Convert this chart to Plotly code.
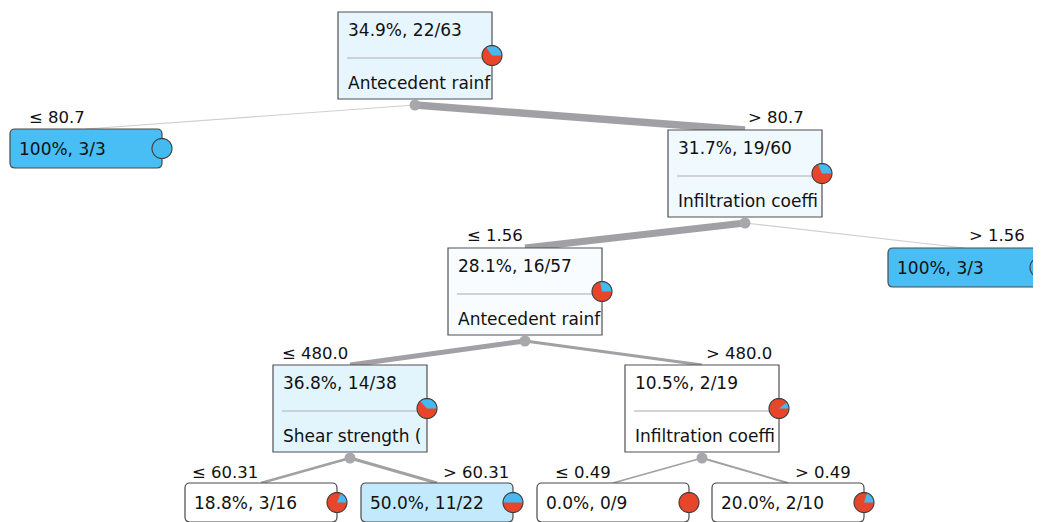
import math
import plotly.graph_objects as go

# ---------------- data ----------------
node_names = ["root", "L", "R", "RL", "RR", "RLL", "RLR", "RLLL", "RLLR", "RLRL", "RLRR"]
parents = [None, 0, 0, 2, 2, 3, 3, 5, 5, 6, 6]
conditions = ["", "≤ 80.7", "> 80.7", "≤ 1.56", "> 1.56", "≤ 480.0", "> 480.0",
              "≤ 60.31", "> 60.31", "≤ 0.49", "> 0.49"]
n_target = [22, 3, 19, 16, 3, 14, 2, 3, 11, 0, 2]
n_total = [63, 3, 60, 57, 3, 38, 19, 16, 22, 9, 10]
split_attr = ["Antecedent rainf", "", "Infiltration coeffi", "Antecedent rainf", "",
              "Shear strength (", "Infiltration coeffi", "", "", "", ""]

# ---------------- layout (pixel positions) ----------------
box_left = [338, 10, 668, 448, 888, 273, 625, 185, 361, 537, 712]
box_top = [12, 129, 130, 248, 248, 365, 365, 483, 483, 483, 483]
label_x = [None, 27, 806, 465, 1027, 280, 774, 190, 511, 553, 853]
label_y = [None, 117, 117, 235, 235, 353, 353, 472, 472, 472, 472]

W, H = 1041, 522
OFF = 8  # page body margin compensation
INNER_W, INNER_H = 154, 87
LEAF_W, LEAF_H = 152, 39
PIE_R = 10
DOT_R = 5.5
BLUE = (72, 190, 245)
PIE_BLUE = "#46b9f1"
PIE_RED = "#e8462a"
FONT = "DejaVu Sans"
TXT = "#111111"

n = len(node_names)
is_leaf = [s == "" for s in split_attr]


def geom(i):
    w = LEAF_W if is_leaf[i] else INNER_W
    h = LEAF_H if is_leaf[i] else INNER_H
    x0, y0 = box_left[i], box_top[i]
    return x0, y0, x0 + w, y0 + h


def fill_color(p):
    a = max(0.0, (p - 0.25) / 0.75)
    r, g, b = [round(255 * (1 - a) + c * a) for c in BLUE]
    return f"rgb({r},{g},{b})"


def rounded_rect(x0, y0, x1, y1, r):
    return (f"M{x0+r},{y0} L{x1-r},{y0} Q{x1},{y0} {x1},{y0+r} "
            f"L{x1},{y1-r} Q{x1},{y1} {x1-r},{y1} L{x0+r},{y1} Q{x0},{y1} {x0},{y1-r} "
            f"L{x0},{y0+r} Q{x0},{y0} {x0+r},{y0} Z")


def circle_path(cx, cy, r, k=48):
    pts = [(cx + r * math.cos(2 * math.pi * j / k), cy - r * math.sin(2 * math.pi * j / k)) for j in range(k)]
    return "M" + " L".join(f"{x:.2f},{y:.2f}" for x, y in pts) + " Z"


def wedge_path(cx, cy, r, frac, k=60):
    ang = 2 * math.pi * frac
    m = max(2, int(k * frac) + 1)
    pts = [(cx + r * math.cos(ang * j / m), cy - r * math.sin(ang * j / m)) for j in range(m + 1)]
    return f"M{cx},{cy} L" + " L".join(f"{x:.2f},{y:.2f}" for x, y in pts) + " Z"


shapes = []
annotations = []

# edges
for i in range(n):
    p = parents[i]
    if p is None:
        continue
    px0, py0, px1, py1 = geom(p)
    cx0, cy0, cx1, cy1 = geom(i)
    sx, sy = (px0 + px1) / 2, py1 + 6
    ex, ey = (cx0 + cx1) / 2, cy0
    w = 0.8 + 7 * n_total[i] / n_total[0]
    col = "#a1a1a5" if n_total[i] > 5 else "#cfcfd1"
    shapes.append(dict(type="line", xref="x", yref="y", x0=sx, y0=sy, x1=ex, y1=ey,
                       line=dict(color=col, width=w)))

# boxes
for i in range(n):
    x0, y0, x1, y1 = geom(i)
    frac = n_target[i] / n_total[i]
    if is_leaf[i]:
        shapes.append(dict(type="path", xref="x", yref="y", path=rounded_rect(x0, y0, x1, y1, 5),
                           fillcolor=fill_color(frac), line=dict(color="#4a4a4a", width=1.2)))
    else:
        shapes.append(dict(type="rect", xref="x", yref="y", x0=x0, y0=y0, x1=x1, y1=y1,
                           fillcolor=fill_color(frac), line=dict(color="#505050", width=1.2)))
        shapes.append(dict(type="line", xref="x", yref="y", x0=x0 + 9, y0=y0 + 46, x1=x1 - 4, y1=y0 + 46,
                           line=dict(color="#c4c4c4", width=1.5)))

# split dots
for i in range(n):
    if is_leaf[i]:
        continue
    x0, y0, x1, y1 = geom(i)
    cx, cy = (x0 + x1) / 2, y1 + 6
    shapes.append(dict(type="circle", xref="x", yref="y", x0=cx - DOT_R, y0=cy - DOT_R,
                       x1=cx + DOT_R, y1=cy + DOT_R, fillcolor="#a8a8ac", line=dict(width=0)))

# pies
for i in range(n):
    x0, y0, x1, y1 = geom(i)
    cx, cy = x1, (y0 + y1) / 2
    frac = n_target[i] / n_total[i]
    shapes.append(dict(type="path", xref="x", yref="y", path=circle_path(cx, cy, PIE_R),
                       fillcolor=PIE_RED if frac < 1 else PIE_BLUE, line=dict(width=0)))
    if 0 < frac < 1:
        shapes.append(dict(type="path", xref="x", yref="y", path=wedge_path(cx, cy, PIE_R, frac),
                           fillcolor=PIE_BLUE, line=dict(width=0)))
    shapes.append(dict(type="path", xref="x", yref="y", path=circle_path(cx, cy, PIE_R),
                       fillcolor="rgba(0,0,0,0)", line=dict(color="#3c3c3c", width=1.1)))

# texts
for i in range(n):
    x0, y0, x1, y1 = geom(i)
    frac = n_target[i] / n_total[i]
    pct = "100%" if n_target[i] == n_total[i] else f"{100 * frac:.1f}%"
    head = f"{pct}, {n_target[i]}/{n_total[i]}"
    if is_leaf[i]:
        annotations.append(dict(x=x0 + 7, y=(y0 + y1) / 2, text=head, showarrow=False,
                                xanchor="left", yanchor="middle", xref="x", yref="y",
                                font=dict(family=FONT, size=17, color=TXT)))
    else:
        annotations.append(dict(x=x0 + 8, y=y0 + 18, text=head, showarrow=False,
                                xanchor="left", yanchor="middle", xref="x", yref="y",
                                font=dict(family=FONT, size=17, color=TXT)))
        annotations.append(dict(x=x0 + 8, y=y0 + 71, text=split_attr[i], showarrow=False,
                                xanchor="left", yanchor="middle", xref="x", yref="y",
                                font=dict(family=FONT, size=17, color=TXT)))
    if parents[i] is not None:
        left_child = conditions[i].startswith("≤")
        annotations.append(dict(x=label_x[i], y=label_y[i], text=conditions[i], showarrow=False,
                                xanchor="left" if left_child else "right", yanchor="middle",
                                xref="x", yref="y", font=dict(family=FONT, size=16.5, color=TXT)))

fig = go.Figure()
fig.add_trace(go.Scatter(x=[OFF], y=[OFF], mode="markers", marker=dict(opacity=0), hoverinfo="skip",
                         showlegend=False))
fig.update_layout(
    width=W, height=H, margin=dict(l=0, r=0, t=0, b=0),
    paper_bgcolor="white", plot_bgcolor="white",
    xaxis=dict(range=[OFF, W + OFF], visible=False, fixedrange=True),
    yaxis=dict(range=[H + OFF, OFF], visible=False, fixedrange=True),
    shapes=shapes, annotations=annotations, showlegend=False,
)
fig.write_html("out.html")
